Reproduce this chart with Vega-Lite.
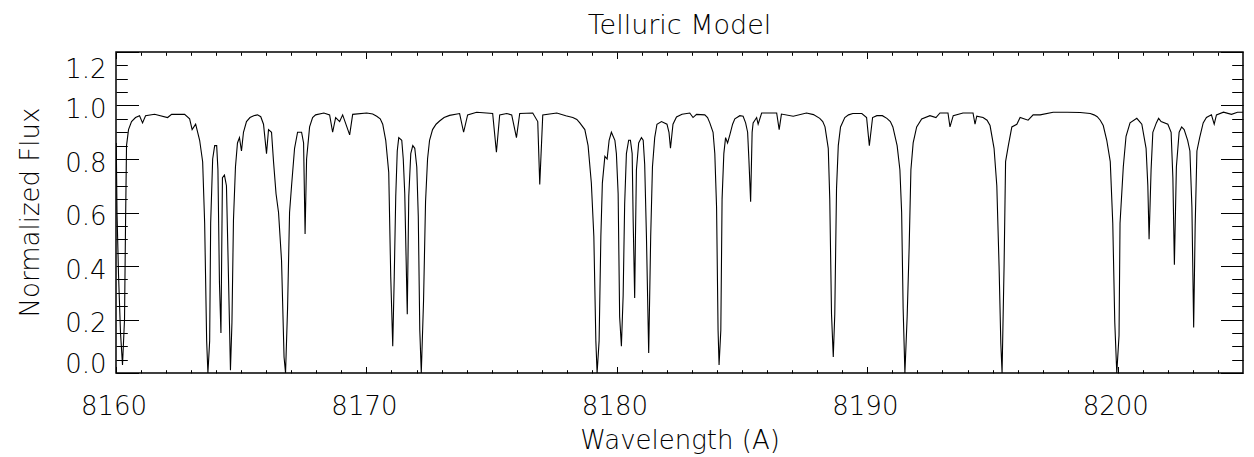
{
  "$schema": "https://vega.github.io/schema/vega-lite/v6.json",
  "width": 1127,
  "height": 321,
  "autosize": "none",
  "padding": {"left": 116, "top": 52, "right": 11, "bottom": 84},
  "background": "white",
  "title": {"text": "Telluric Model", "font": "DejaVu Sans", "fontSize": 27, "fontWeight": 200, "color": "black", "baseline": "alphabetic", "offset": -9, "anchor": "middle", "frame": "group"},
  "config": {
    "view": {"stroke": "black", "strokeWidth": 1.5},
    "axis": {"grid": false, "domain": false, "tickColor": "black", "labelColor": "black", "titleColor": "black", "labelFont": "DejaVu Sans", "titleFont": "DejaVu Sans", "labelFontSize": 26, "titleFontSize": 26, "titleFontWeight": 200, "labelFontWeight": 200, "tickWidth": 1}
  },
  "data": {"values": [
    {"wavelength": 8160.01, "flux": 0.86}, {"wavelength": 8160.04, "flux": 0.6}, {"wavelength": 8160.10, "flux": 0.37}, {"wavelength": 8160.18, "flux": 0.15}, {"wavelength": 8160.26, "flux": 0.03}, {"wavelength": 8160.34, "flux": 0.2}, {"wavelength": 8160.38, "flux": 0.55}, {"wavelength": 8160.42, "flux": 0.85}, {"wavelength": 8160.50, "flux": 0.91}, {"wavelength": 8160.62, "flux": 0.94}, {"wavelength": 8160.78, "flux": 0.955}, {"wavelength": 8160.94, "flux": 0.962}, {"wavelength": 8161.06, "flux": 0.935}, {"wavelength": 8161.18, "flux": 0.962}, {"wavelength": 8161.54, "flux": 0.967}, {"wavelength": 8162.06, "flux": 0.955}, {"wavelength": 8162.22, "flux": 0.967}, {"wavelength": 8162.74, "flux": 0.967}, {"wavelength": 8162.94, "flux": 0.95}, {"wavelength": 8163.04, "flux": 0.91}, {"wavelength": 8163.18, "flux": 0.93}, {"wavelength": 8163.34, "flux": 0.87}, {"wavelength": 8163.46, "flux": 0.79}, {"wavelength": 8163.54, "flux": 0.56}, {"wavelength": 8163.62, "flux": 0.12}, {"wavelength": 8163.67, "flux": 0.0}, {"wavelength": 8163.74, "flux": 0.12}, {"wavelength": 8163.78, "flux": 0.56}, {"wavelength": 8163.86, "flux": 0.8}, {"wavelength": 8163.94, "flux": 0.85}, {"wavelength": 8164.02, "flux": 0.85}, {"wavelength": 8164.07, "flux": 0.76}, {"wavelength": 8164.13, "flux": 0.34}, {"wavelength": 8164.19, "flux": 0.15}, {"wavelength": 8164.25, "flux": 0.73}, {"wavelength": 8164.33, "flux": 0.74}, {"wavelength": 8164.41, "flux": 0.7}, {"wavelength": 8164.47, "flux": 0.45}, {"wavelength": 8164.53, "flux": 0.19}, {"wavelength": 8164.57, "flux": 0.01}, {"wavelength": 8164.63, "flux": 0.19}, {"wavelength": 8164.69, "flux": 0.57}, {"wavelength": 8164.77, "flux": 0.77}, {"wavelength": 8164.85, "flux": 0.86}, {"wavelength": 8164.93, "flux": 0.88}, {"wavelength": 8165.01, "flux": 0.83}, {"wavelength": 8165.09, "flux": 0.9}, {"wavelength": 8165.21, "flux": 0.94}, {"wavelength": 8165.35, "flux": 0.955}, {"wavelength": 8165.50, "flux": 0.962}, {"wavelength": 8165.65, "flux": 0.965}, {"wavelength": 8165.78, "flux": 0.958}, {"wavelength": 8165.89, "flux": 0.93}, {"wavelength": 8166.01, "flux": 0.82}, {"wavelength": 8166.09, "flux": 0.91}, {"wavelength": 8166.21, "flux": 0.9}, {"wavelength": 8166.29, "flux": 0.79}, {"wavelength": 8166.39, "flux": 0.67}, {"wavelength": 8166.49, "flux": 0.6}, {"wavelength": 8166.61, "flux": 0.42}, {"wavelength": 8166.71, "flux": 0.06}, {"wavelength": 8166.77, "flux": 0.0}, {"wavelength": 8166.85, "flux": 0.24}, {"wavelength": 8166.93, "flux": 0.6}, {"wavelength": 8167.01, "flux": 0.7}, {"wavelength": 8167.13, "flux": 0.84}, {"wavelength": 8167.25, "flux": 0.9}, {"wavelength": 8167.41, "flux": 0.9}, {"wavelength": 8167.49, "flux": 0.86}, {"wavelength": 8167.55, "flux": 0.52}, {"wavelength": 8167.61, "flux": 0.8}, {"wavelength": 8167.73, "flux": 0.92}, {"wavelength": 8167.85, "flux": 0.955}, {"wavelength": 8167.97, "flux": 0.965}, {"wavelength": 8168.30, "flux": 0.972}, {"wavelength": 8168.53, "flux": 0.965}, {"wavelength": 8168.65, "flux": 0.9}, {"wavelength": 8168.77, "flux": 0.955}, {"wavelength": 8168.93, "flux": 0.94}, {"wavelength": 8169.05, "flux": 0.965}, {"wavelength": 8169.33, "flux": 0.89}, {"wavelength": 8169.45, "flux": 0.967}, {"wavelength": 8170.01, "flux": 0.972}, {"wavelength": 8170.25, "flux": 0.968}, {"wavelength": 8170.41, "flux": 0.96}, {"wavelength": 8170.55, "flux": 0.95}, {"wavelength": 8170.65, "flux": 0.93}, {"wavelength": 8170.77, "flux": 0.87}, {"wavelength": 8170.89, "flux": 0.75}, {"wavelength": 8170.97, "flux": 0.36}, {"wavelength": 8171.05, "flux": 0.1}, {"wavelength": 8171.11, "flux": 0.36}, {"wavelength": 8171.17, "flux": 0.66}, {"wavelength": 8171.23, "flux": 0.83}, {"wavelength": 8171.29, "flux": 0.88}, {"wavelength": 8171.41, "flux": 0.87}, {"wavelength": 8171.47, "flux": 0.8}, {"wavelength": 8171.53, "flux": 0.67}, {"wavelength": 8171.63, "flux": 0.22}, {"wavelength": 8171.69, "flux": 0.66}, {"wavelength": 8171.77, "flux": 0.82}, {"wavelength": 8171.85, "flux": 0.85}, {"wavelength": 8171.93, "flux": 0.84}, {"wavelength": 8172.01, "flux": 0.77}, {"wavelength": 8172.07, "flux": 0.585}, {"wavelength": 8172.13, "flux": 0.16}, {"wavelength": 8172.19, "flux": 0.0}, {"wavelength": 8172.28, "flux": 0.27}, {"wavelength": 8172.36, "flux": 0.64}, {"wavelength": 8172.44, "flux": 0.8}, {"wavelength": 8172.52, "flux": 0.87}, {"wavelength": 8172.64, "flux": 0.91}, {"wavelength": 8172.78, "flux": 0.93}, {"wavelength": 8172.92, "flux": 0.942}, {"wavelength": 8173.10, "flux": 0.955}, {"wavelength": 8173.32, "flux": 0.963}, {"wavelength": 8173.72, "flux": 0.97}, {"wavelength": 8173.88, "flux": 0.9}, {"wavelength": 8174.04, "flux": 0.965}, {"wavelength": 8174.40, "flux": 0.975}, {"wavelength": 8175.04, "flux": 0.97}, {"wavelength": 8175.19, "flux": 0.825}, {"wavelength": 8175.32, "flux": 0.965}, {"wavelength": 8175.60, "flux": 0.97}, {"wavelength": 8175.80, "flux": 0.965}, {"wavelength": 8175.99, "flux": 0.88}, {"wavelength": 8176.12, "flux": 0.97}, {"wavelength": 8176.64, "flux": 0.972}, {"wavelength": 8176.84, "flux": 0.94}, {"wavelength": 8176.92, "flux": 0.705}, {"wavelength": 8177.04, "flux": 0.965}, {"wavelength": 8177.60, "flux": 0.972}, {"wavelength": 8177.96, "flux": 0.962}, {"wavelength": 8178.24, "flux": 0.955}, {"wavelength": 8178.40, "flux": 0.948}, {"wavelength": 8178.52, "flux": 0.935}, {"wavelength": 8178.72, "flux": 0.91}, {"wavelength": 8178.85, "flux": 0.85}, {"wavelength": 8178.98, "flux": 0.71}, {"wavelength": 8179.08, "flux": 0.51}, {"wavelength": 8179.16, "flux": 0.12}, {"wavelength": 8179.21, "flux": 0.0}, {"wavelength": 8179.29, "flux": 0.12}, {"wavelength": 8179.36, "flux": 0.51}, {"wavelength": 8179.42, "flux": 0.71}, {"wavelength": 8179.52, "flux": 0.81}, {"wavelength": 8179.61, "flux": 0.8}, {"wavelength": 8179.69, "flux": 0.87}, {"wavelength": 8179.78, "flux": 0.9}, {"wavelength": 8179.92, "flux": 0.87}, {"wavelength": 8179.98, "flux": 0.82}, {"wavelength": 8180.05, "flux": 0.67}, {"wavelength": 8180.11, "flux": 0.21}, {"wavelength": 8180.18, "flux": 0.1}, {"wavelength": 8180.25, "flux": 0.29}, {"wavelength": 8180.31, "flux": 0.63}, {"wavelength": 8180.38, "flux": 0.82}, {"wavelength": 8180.47, "flux": 0.87}, {"wavelength": 8180.54, "flux": 0.87}, {"wavelength": 8180.61, "flux": 0.82}, {"wavelength": 8180.65, "flux": 0.57}, {"wavelength": 8180.71, "flux": 0.28}, {"wavelength": 8180.74, "flux": 0.5}, {"wavelength": 8180.78, "flux": 0.76}, {"wavelength": 8180.87, "flux": 0.86}, {"wavelength": 8180.98, "flux": 0.88}, {"wavelength": 8181.05, "flux": 0.87}, {"wavelength": 8181.11, "flux": 0.78}, {"wavelength": 8181.18, "flux": 0.51}, {"wavelength": 8181.27, "flux": 0.075}, {"wavelength": 8181.35, "flux": 0.51}, {"wavelength": 8181.42, "flux": 0.77}, {"wavelength": 8181.51, "flux": 0.88}, {"wavelength": 8181.60, "flux": 0.93}, {"wavelength": 8181.78, "flux": 0.94}, {"wavelength": 8182.00, "flux": 0.93}, {"wavelength": 8182.08, "flux": 0.9}, {"wavelength": 8182.14, "flux": 0.84}, {"wavelength": 8182.24, "flux": 0.93}, {"wavelength": 8182.38, "flux": 0.957}, {"wavelength": 8182.60, "flux": 0.967}, {"wavelength": 8182.91, "flux": 0.972}, {"wavelength": 8183.04, "flux": 0.955}, {"wavelength": 8183.18, "flux": 0.967}, {"wavelength": 8183.51, "flux": 0.965}, {"wavelength": 8183.62, "flux": 0.955}, {"wavelength": 8183.71, "flux": 0.935}, {"wavelength": 8183.84, "flux": 0.9}, {"wavelength": 8183.91, "flux": 0.82}, {"wavelength": 8183.98, "flux": 0.62}, {"wavelength": 8184.04, "flux": 0.16}, {"wavelength": 8184.08, "flux": 0.03}, {"wavelength": 8184.15, "flux": 0.16}, {"wavelength": 8184.20, "flux": 0.65}, {"wavelength": 8184.27, "flux": 0.82}, {"wavelength": 8184.34, "flux": 0.88}, {"wavelength": 8184.42, "flux": 0.86}, {"wavelength": 8184.51, "flux": 0.89}, {"wavelength": 8184.62, "flux": 0.93}, {"wavelength": 8184.71, "flux": 0.95}, {"wavelength": 8184.91, "flux": 0.962}, {"wavelength": 8185.04, "flux": 0.96}, {"wavelength": 8185.14, "flux": 0.935}, {"wavelength": 8185.22, "flux": 0.9}, {"wavelength": 8185.27, "flux": 0.8}, {"wavelength": 8185.34, "flux": 0.64}, {"wavelength": 8185.40, "flux": 0.9}, {"wavelength": 8185.44, "flux": 0.935}, {"wavelength": 8185.58, "flux": 0.955}, {"wavelength": 8185.64, "flux": 0.93}, {"wavelength": 8185.78, "flux": 0.972}, {"wavelength": 8186.38, "flux": 0.972}, {"wavelength": 8186.48, "flux": 0.91}, {"wavelength": 8186.57, "flux": 0.968}, {"wavelength": 8187.04, "flux": 0.96}, {"wavelength": 8187.57, "flux": 0.972}, {"wavelength": 8187.85, "flux": 0.966}, {"wavelength": 8188.10, "flux": 0.952}, {"wavelength": 8188.22, "flux": 0.94}, {"wavelength": 8188.31, "flux": 0.92}, {"wavelength": 8188.44, "flux": 0.84}, {"wavelength": 8188.50, "flux": 0.65}, {"wavelength": 8188.57, "flux": 0.22}, {"wavelength": 8188.64, "flux": 0.06}, {"wavelength": 8188.70, "flux": 0.22}, {"wavelength": 8188.77, "flux": 0.69}, {"wavelength": 8188.84, "flux": 0.85}, {"wavelength": 8188.93, "flux": 0.92}, {"wavelength": 8189.10, "flux": 0.955}, {"wavelength": 8189.25, "flux": 0.965}, {"wavelength": 8189.42, "flux": 0.97}, {"wavelength": 8189.78, "flux": 0.97}, {"wavelength": 8189.97, "flux": 0.955}, {"wavelength": 8190.08, "flux": 0.85}, {"wavelength": 8190.21, "flux": 0.955}, {"wavelength": 8190.38, "flux": 0.962}, {"wavelength": 8190.60, "flux": 0.962}, {"wavelength": 8190.78, "flux": 0.952}, {"wavelength": 8190.92, "flux": 0.94}, {"wavelength": 8191.02, "flux": 0.92}, {"wavelength": 8191.19, "flux": 0.85}, {"wavelength": 8191.30, "flux": 0.76}, {"wavelength": 8191.37, "flux": 0.6}, {"wavelength": 8191.43, "flux": 0.24}, {"wavelength": 8191.50, "flux": 0.0}, {"wavelength": 8191.59, "flux": 0.21}, {"wavelength": 8191.67, "flux": 0.47}, {"wavelength": 8191.74, "flux": 0.76}, {"wavelength": 8191.83, "flux": 0.86}, {"wavelength": 8191.97, "flux": 0.92}, {"wavelength": 8192.17, "flux": 0.95}, {"wavelength": 8192.50, "flux": 0.962}, {"wavelength": 8192.74, "flux": 0.955}, {"wavelength": 8192.90, "flux": 0.972}, {"wavelength": 8193.22, "flux": 0.972}, {"wavelength": 8193.30, "flux": 0.92}, {"wavelength": 8193.43, "flux": 0.962}, {"wavelength": 8193.82, "flux": 0.972}, {"wavelength": 8194.22, "flux": 0.972}, {"wavelength": 8194.30, "flux": 0.93}, {"wavelength": 8194.37, "flux": 0.96}, {"wavelength": 8194.62, "flux": 0.955}, {"wavelength": 8194.78, "flux": 0.945}, {"wavelength": 8194.90, "flux": 0.925}, {"wavelength": 8195.06, "flux": 0.84}, {"wavelength": 8195.17, "flux": 0.7}, {"wavelength": 8195.26, "flux": 0.4}, {"wavelength": 8195.33, "flux": 0.11}, {"wavelength": 8195.38, "flux": 0.0}, {"wavelength": 8195.46, "flux": 0.4}, {"wavelength": 8195.52, "flux": 0.79}, {"wavelength": 8195.63, "flux": 0.85}, {"wavelength": 8195.77, "flux": 0.92}, {"wavelength": 8195.97, "flux": 0.93}, {"wavelength": 8196.10, "flux": 0.955}, {"wavelength": 8196.42, "flux": 0.945}, {"wavelength": 8196.62, "flux": 0.965}, {"wavelength": 8196.90, "flux": 0.965}, {"wavelength": 8197.42, "flux": 0.975}, {"wavelength": 8197.98, "flux": 0.975}, {"wavelength": 8198.50, "flux": 0.974}, {"wavelength": 8198.90, "flux": 0.97}, {"wavelength": 8199.05, "flux": 0.965}, {"wavelength": 8199.18, "flux": 0.958}, {"wavelength": 8199.30, "flux": 0.945}, {"wavelength": 8199.42, "flux": 0.925}, {"wavelength": 8199.56, "flux": 0.87}, {"wavelength": 8199.70, "flux": 0.79}, {"wavelength": 8199.80, "flux": 0.56}, {"wavelength": 8199.88, "flux": 0.19}, {"wavelength": 8199.96, "flux": 0.0}, {"wavelength": 8200.05, "flux": 0.14}, {"wavelength": 8200.09, "flux": 0.56}, {"wavelength": 8200.22, "flux": 0.77}, {"wavelength": 8200.33, "flux": 0.885}, {"wavelength": 8200.49, "flux": 0.935}, {"wavelength": 8200.76, "flux": 0.952}, {"wavelength": 8200.96, "flux": 0.93}, {"wavelength": 8201.13, "flux": 0.84}, {"wavelength": 8201.20, "flux": 0.7}, {"wavelength": 8201.25, "flux": 0.5}, {"wavelength": 8201.33, "flux": 0.76}, {"wavelength": 8201.40, "flux": 0.9}, {"wavelength": 8201.54, "flux": 0.935}, {"wavelength": 8201.63, "flux": 0.952}, {"wavelength": 8201.73, "flux": 0.94}, {"wavelength": 8202.00, "flux": 0.93}, {"wavelength": 8202.13, "flux": 0.9}, {"wavelength": 8202.20, "flux": 0.73}, {"wavelength": 8202.26, "flux": 0.405}, {"wavelength": 8202.34, "flux": 0.77}, {"wavelength": 8202.45, "flux": 0.9}, {"wavelength": 8202.55, "flux": 0.92}, {"wavelength": 8202.65, "flux": 0.91}, {"wavelength": 8202.79, "flux": 0.87}, {"wavelength": 8202.88, "flux": 0.83}, {"wavelength": 8202.96, "flux": 0.62}, {"wavelength": 8203.03, "flux": 0.17}, {"wavelength": 8203.09, "flux": 0.55}, {"wavelength": 8203.16, "flux": 0.83}, {"wavelength": 8203.27, "flux": 0.88}, {"wavelength": 8203.41, "flux": 0.935}, {"wavelength": 8203.54, "flux": 0.955}, {"wavelength": 8203.74, "flux": 0.965}, {"wavelength": 8203.85, "flux": 0.93}, {"wavelength": 8203.94, "flux": 0.965}, {"wavelength": 8204.22, "flux": 0.975}, {"wavelength": 8204.54, "flux": 0.967}, {"wavelength": 8204.78, "flux": 0.975}, {"wavelength": 8205.00, "flux": 0.975}
  ]},
  "layer": [
    {
      "mark": {"type": "line", "stroke": "black", "strokeWidth": 1.1, "interpolate": "linear", "clip": true},
      "encoding": {
        "x": {"field": "wavelength", "type": "quantitative", "scale": {"domain": [8160, 8205], "nice": false, "zero": false},
          "axis": {"orient": "bottom", "values": [8160, 8170, 8180, 8190, 8200], "format": "d", "ticks": false, "labelPadding": 20, "labelFlush": false, "labelOffset": -2.5, "labelOverlap": false, "title": "Wavelength (A)", "titleY": 75, "titleBaseline": "alphabetic", "titleAlign": "center"}},
        "y": {"field": "flux", "type": "quantitative", "scale": {"domain": [0, 1.2], "nice": false, "zero": false},
          "axis": {"orient": "left", "values": [0, 0.2, 0.4, 0.6, 0.8, 1.0, 1.2], "format": ".1f", "ticks": false, "labelPadding": 10, "labelFlush": true, "labelOffset": 4, "labelOverlap": false, "title": "Normalized Flux", "titleX": -78, "titleY": 160, "titleAngle": 270, "titleBaseline": "alphabetic", "titleAlign": "center"}}
      }
    },
    {
      "mark": {"type": "point", "opacity": 0},
      "encoding": {
        "x": {"field": "wavelength", "type": "quantitative", "axis": {"orient": "bottom", "values": [8160, 8170, 8180, 8190, 8200], "labels": false, "domain": false, "ticks": true, "tickSize": -6.5, "title": null}},
        "y": {"field": "flux", "type": "quantitative", "axis": {"orient": "left", "values": [0, 0.2, 0.4, 0.6, 0.8, 1.0, 1.2], "labels": false, "domain": false, "ticks": true, "tickSize": -22.5, "title": null}}
      }
    },
    {
      "mark": {"type": "point", "opacity": 0},
      "encoding": {
        "x": {"field": "wavelength", "type": "quantitative", "axis": {"orient": "bottom", "values": [8161, 8162, 8163, 8164, 8165, 8166, 8167, 8168, 8169, 8171, 8172, 8173, 8174, 8175, 8176, 8177, 8178, 8179, 8181, 8182, 8183, 8184, 8185, 8186, 8187, 8188, 8189, 8191, 8192, 8193, 8194, 8195, 8196, 8197, 8198, 8199, 8201, 8202, 8203, 8204], "labels": false, "domain": false, "ticks": true, "tickSize": -3.3, "title": null}},
        "y": {"field": "flux", "type": "quantitative", "axis": {"orient": "left", "values": [0.05, 0.1, 0.15, 0.25, 0.3, 0.35, 0.45, 0.5, 0.55, 0.65, 0.7, 0.75, 0.85, 0.9, 0.95, 1.05, 1.1, 1.15], "labels": false, "domain": false, "ticks": true, "tickSize": -11.3, "title": null}}
      }
    },
    {
      "mark": {"type": "point", "opacity": 0},
      "encoding": {
        "x": {"field": "wavelength", "type": "quantitative", "axis": {"orient": "top", "values": [8160, 8170, 8180, 8190, 8200], "labels": false, "domain": false, "ticks": true, "tickSize": -6.5, "title": null}},
        "y": {"field": "flux", "type": "quantitative", "axis": {"orient": "right", "values": [0, 0.2, 0.4, 0.6, 0.8, 1.0, 1.2], "labels": false, "domain": false, "ticks": true, "tickSize": -22.5, "title": null}}
      }
    },
    {
      "mark": {"type": "point", "opacity": 0},
      "encoding": {
        "x": {"field": "wavelength", "type": "quantitative", "axis": {"orient": "top", "values": [8161, 8162, 8163, 8164, 8165, 8166, 8167, 8168, 8169, 8171, 8172, 8173, 8174, 8175, 8176, 8177, 8178, 8179, 8181, 8182, 8183, 8184, 8185, 8186, 8187, 8188, 8189, 8191, 8192, 8193, 8194, 8195, 8196, 8197, 8198, 8199, 8201, 8202, 8203, 8204], "labels": false, "domain": false, "ticks": true, "tickSize": -3.3, "title": null}},
        "y": {"field": "flux", "type": "quantitative", "axis": {"orient": "right", "values": [0.05, 0.1, 0.15, 0.25, 0.3, 0.35, 0.45, 0.5, 0.55, 0.65, 0.7, 0.75, 0.85, 0.9, 0.95, 1.05, 1.1, 1.15], "labels": false, "domain": false, "ticks": true, "tickSize": -11.3, "title": null}}
      }
    }
  ],
  "resolve": {"axis": {"x": "independent", "y": "independent"}}
}
